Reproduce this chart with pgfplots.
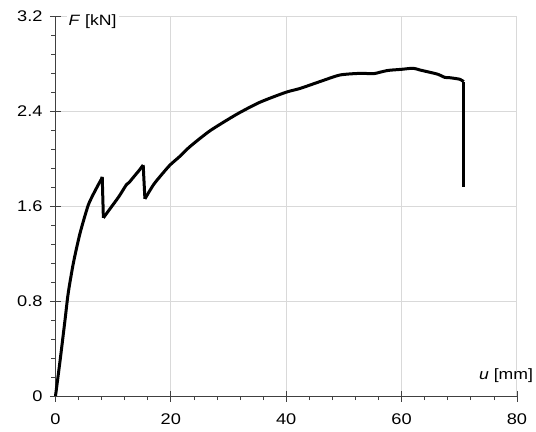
\documentclass[border=0pt]{standalone}
\usepackage{fontspec}
\setmainfont{Liberation Sans}[FakeStretch=1.18]
\usepackage{pgfplots}
\pgfplotsset{compat=1.18}
\definecolor{gridgray}{HTML}{D9D9D9}
\definecolor{axgray}{HTML}{404040}
\begin{document}
\begin{tikzpicture}
\begin{axis}[
 at={(0,0)}, anchor=south west,
 scale only axis, width=461.5bp, height=380bp,
 xmin=0, xmax=80, ymin=0, ymax=3.2,
 axis lines=left, axis line style={-, axgray, line width=0.8bp},
 xtick={0,20,40,60,80}, ytick={0,0.8,1.6,2.4,3.2},
 minor x tick num=4, minor y tick num=4,
 grid=major, major grid style={gridgray, line width=1bp},
 tick align=center, major tick length=11bp, minor tick length=4bp,
 tick style={axgray, line width=0.8bp},
 minor x tick style={yshift=-2bp}, minor y tick style={xshift=-2bp},
 tick label style={font=\fontsize{15.5}{18}\selectfont},
 xticklabel style={yshift=-9bp},
 yticklabel style={xshift=-4bp},
 /pgf/number format/assume math mode=true,
 clip=false,
]
\addplot[black, line width=3bp, line join=round, no marks, smooth, tension=0.4] table {
0 0
0.8 0.30
1.65 0.64
2.2 0.865
3.1 1.12
4.25 1.37
5.7 1.61
7.1 1.75
8.0 1.83
8.1 1.845
};
\addplot[black, line width=3bp, line join=round, no marks] table {
8.1 1.845
8.3 1.50
};
\addplot[black, line width=3bp, line join=round, no marks, smooth, tension=0.4] table {
8.3 1.50
9.5 1.58
11 1.68
12.3 1.78
12.8 1.80
13.3 1.83
14.5 1.90
15.2 1.945
};
\addplot[black, line width=3bp, line join=round, no marks] table {
15.2 1.945
15.5 1.66
};
\addplot[black, line width=3bp, line join=round, no marks, smooth, tension=0.4] table {
15.5 1.66
17 1.78
18.5 1.87
19.85 1.945
21.6 2.02
23.3 2.10
26.8 2.234
31.4 2.372
35.4 2.473
39.9 2.557
42.4 2.59
45.8 2.647
49.3 2.703
52.8 2.717
55.1 2.714
56.2 2.726
57.7 2.742
60 2.751
62 2.76
63.2 2.745
64.9 2.726
66.3 2.709
67.5 2.683
68.4 2.68
70.1 2.667
70.75 2.647
};
\addplot[black, line width=3bp, line join=round, no marks] table {
70.75 2.647
70.75 1.763
};
\node[anchor=west, fill=white, inner sep=2bp, font=\fontsize{15}{18}\selectfont] at (axis cs:1.9,3.155) {\textit{F} [kN]};
\node[anchor=east, inner sep=0bp, font=\fontsize{15}{18}\selectfont] at (axis cs:82.8,0.168) {\textit{u} [mm]};
\end{axis}
\pgfresetboundingbox
\path[use as bounding box] (-55.5bp,-36bp) rectangle (480.5bp,396bp);
\end{tikzpicture}
\end{document}
